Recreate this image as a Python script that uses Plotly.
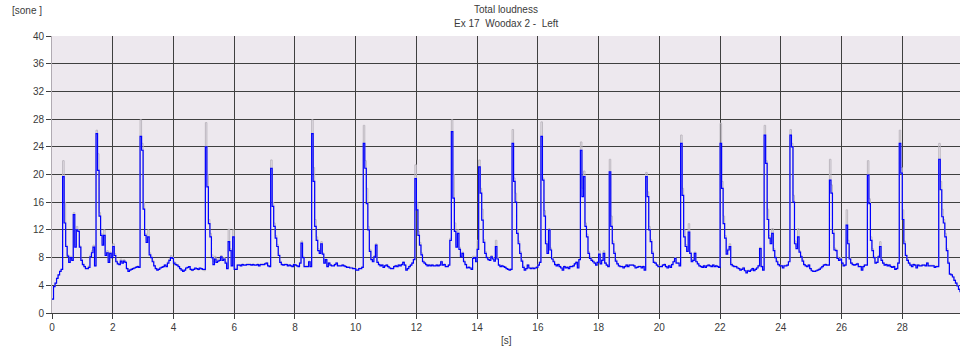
import plotly.graph_objects as go

# Total loudness, sampled every 0.05 s (one row per second)
SAMPLE_STEP_S = 0.05

loudness_blue = [
    2.0, 3.8, 4.3, 5.0, 5.5, 6.0, 6.3, 19.7, 13.0, 9.6, 8.2, 7.3, 8.0, 7.6, 14.2, 9.5, 12.0, 11.8, 9.5, 7.6,
    7.0, 6.7, 6.4, 6.4, 6.6, 8.1, 8.7, 9.5, 6.8, 25.9, 20.6, 14.0, 11.2, 9.8, 11.2, 8.3, 8.7, 7.3, 8.6, 8.0,
    9.6, 8.3, 7.4, 7.1, 7.0, 7.5, 7.2, 7.5, 7.3, 6.4, 6.0, 6.2, 6.3, 6.4, 6.5, 6.6, 6.7, 6.6, 25.5, 23.5,
    15.0, 11.2, 10.2, 11.0, 8.4, 8.0, 7.4, 6.8, 6.4, 6.2, 6.3, 6.5, 6.6, 6.7, 6.9, 6.7, 7.2, 7.6, 8.0, 7.9,
    7.2, 7.0, 6.9, 6.7, 6.4, 6.2, 6.0, 6.2, 6.5, 6.6, 6.7, 6.3, 6.2, 6.3, 6.5, 6.4, 6.3, 6.5, 6.4, 6.3,
    6.3, 24.0, 18.2, 12.9, 11.0, 8.0, 7.0, 7.8, 7.3, 7.5, 7.6, 8.1, 7.6, 7.8, 7.2, 6.4, 10.3, 9.0, 6.8, 11.0,
    6.3, 6.3, 6.9, 6.9, 6.8, 7.0, 6.9, 6.9, 7.0, 7.0, 7.0, 6.9, 7.0, 6.9, 6.9, 7.0, 6.8, 7.0, 7.0, 7.0,
    7.1, 7.2, 6.8, 6.7, 20.9, 15.4, 12.5, 10.8, 9.6, 8.3, 7.3, 7.0, 6.9, 7.0, 7.0, 6.8, 6.9, 6.8, 6.7, 7.0,
    6.9, 6.8, 6.7, 7.2, 10.1, 8.0, 6.7, 6.7, 6.7, 7.4, 6.7, 25.9, 19.0, 12.5, 10.5, 9.0, 8.6, 10.0, 8.5, 7.2,
    7.7, 6.7, 7.2, 6.9, 6.8, 6.8, 7.0, 7.2, 6.8, 6.8, 6.8, 6.9, 6.8, 6.7, 6.6, 6.6, 6.5, 6.5, 6.4, 6.4,
    6.2, 6.2, 6.4, 6.4, 6.6, 24.5, 20.9, 15.8, 12.0, 8.9, 7.7, 7.4, 8.1, 9.8, 7.3, 7.0, 6.8, 6.9, 6.6, 6.8,
    6.9, 6.7, 6.5, 6.4, 6.4, 6.7, 6.8, 6.7, 6.9, 6.8, 7.0, 7.3, 6.9, 6.2, 6.4, 6.7, 6.9, 7.2, 7.7, 19.4,
    14.9, 11.2, 9.8, 8.4, 7.4, 7.2, 7.0, 6.8, 6.9, 6.8, 6.9, 6.8, 6.8, 6.9, 6.8, 6.9, 7.4, 6.9, 7.0, 6.7,
    6.7, 6.9, 10.5, 26.2, 16.6, 11.8, 9.5, 11.5, 9.2, 8.1, 8.6, 7.4, 7.0, 6.5, 6.6, 6.5, 6.3, 7.9, 8.0, 7.4,
    9.2, 21.1, 17.3, 13.4, 10.2, 8.6, 8.0, 7.7, 7.6, 8.1, 7.8, 7.5, 9.6, 7.8, 6.9, 6.7, 6.8, 6.7, 6.6, 6.4,
    6.3, 6.2, 6.3, 24.5, 19.0, 16.0, 11.5, 10.0, 8.6, 7.5, 6.6, 6.2, 6.4, 6.9, 6.5, 6.4, 6.5, 6.4, 6.5, 6.6,
    6.9, 7.3, 25.5, 19.2, 14.0, 10.0, 8.6, 12.0, 9.1, 7.8, 7.4, 7.0, 6.8, 7.0, 6.7, 6.5, 6.2, 6.7, 6.5, 6.6,
    6.4, 6.7, 6.7, 6.8, 7.1, 7.3, 6.5, 7.7, 23.5, 16.8, 19.7, 12.5, 11.0, 8.6, 7.9, 7.6, 7.4, 7.2, 6.9, 7.3,
    8.5, 7.1, 7.6, 8.6, 7.2, 6.9, 6.7, 20.4, 12.5, 10.0, 8.6, 7.5, 7.1, 6.8, 6.7, 6.7, 6.5, 6.7, 6.9, 6.7,
    6.9, 6.9, 6.9, 6.8, 6.5, 6.6, 6.7, 6.7, 6.5, 6.7, 6.2, 19.7, 16.8, 12.0, 10.3, 8.6, 7.3, 7.2, 6.9, 6.7,
    6.7, 6.7, 6.9, 7.0, 6.7, 6.5, 6.8, 6.6, 7.0, 7.4, 7.9, 7.2, 7.2, 6.8, 24.5, 17.0, 11.0, 9.6, 8.9, 11.7,
    8.6, 7.4, 7.6, 8.6, 7.4, 7.1, 6.8, 6.7, 6.6, 6.8, 6.6, 6.8, 6.9, 6.8, 6.7, 6.9, 6.7, 6.8, 6.7, 6.6,
    24.5, 18.0, 12.9, 10.8, 8.5, 9.1, 9.6, 7.0, 6.8, 6.7, 6.7, 6.5, 6.4, 6.2, 6.3, 6.5, 6.1, 5.8, 6.1, 6.0,
    6.2, 6.4, 6.1, 6.3, 6.5, 6.8, 9.3, 6.7, 6.2, 25.7, 21.6, 13.5, 10.8, 10.0, 11.5, 9.0, 8.0, 7.4, 7.0, 6.8,
    6.8, 6.5, 6.8, 6.8, 6.9, 7.4, 25.7, 24.0, 16.0, 10.0, 9.3, 11.0, 8.8, 8.1, 7.5, 7.0, 6.8, 6.7, 6.9, 6.4,
    6.1, 6.0, 6.0, 6.1, 6.2, 6.3, 6.5, 6.7, 6.9, 7.0, 6.9, 6.9, 19.2, 17.3, 11.5, 9.1, 9.0, 7.9, 7.6, 7.8,
    7.2, 6.8, 6.9, 12.7, 10.0, 7.8, 7.2, 7.0, 6.9, 7.0, 7.1, 6.7, 6.7, 6.2, 6.7, 6.9, 6.9, 19.9, 15.8, 10.5,
    9.0, 8.0, 7.2, 7.3, 8.1, 9.6, 7.6, 7.2, 6.9, 7.0, 6.8, 6.9, 6.7, 6.6, 6.7, 6.3, 6.4, 7.2, 24.5, 20.2,
    13.5, 10.0, 8.3, 7.6, 7.2, 6.9, 6.7, 7.0, 6.9, 6.5, 6.9, 6.8, 6.8, 6.9, 6.9, 6.8, 7.2, 6.8, 6.8, 6.8,
    6.8, 6.6, 6.7, 6.7, 22.2, 17.8, 13.9, 13.0, 11.0, 9.0, 7.2, 5.6, 5.5, 5.2, 4.7, 4.3, 3.9, 3.4, 3.0,
]

loudness_grey = [
    2.0, 3.8, 4.3, 5.0, 5.5, 6.0, 6.3, 22.0, 16.0, 9.8, 8.4, 7.5, 8.2, 7.8, 14.5, 9.8, 12.5, 12.0, 9.7, 7.8,
    7.2, 6.8, 6.5, 6.6, 6.8, 8.4, 9.0, 9.8, 6.8, 26.4, 23.0, 14.5, 11.5, 10.0, 12.0, 8.5, 9.0, 7.5, 8.8, 8.2,
    10.0, 8.6, 7.6, 7.2, 7.2, 7.8, 7.4, 7.7, 7.4, 6.5, 6.2, 6.3, 6.4, 6.5, 6.6, 6.7, 6.8, 6.7, 27.9, 24.5,
    16.0, 11.5, 10.5, 12.0, 8.7, 8.2, 7.6, 6.9, 6.5, 6.3, 6.4, 6.6, 6.7, 6.8, 7.0, 6.9, 7.4, 7.8, 8.3, 8.1,
    7.4, 7.2, 7.0, 6.8, 6.5, 6.3, 6.1, 6.2, 6.4, 6.5, 6.5, 6.2, 6.1, 6.3, 6.4, 6.3, 6.2, 6.4, 6.3, 6.2,
    6.1, 27.5, 20.0, 13.5, 11.5, 8.4, 7.4, 8.2, 7.6, 7.8, 7.8, 8.3, 7.8, 8.0, 7.4, 6.5, 12.1, 9.3, 7.0, 12.0,
    6.5, 6.4, 7.0, 7.0, 6.9, 7.1, 7.0, 7.0, 7.1, 7.1, 7.1, 7.0, 7.1, 7.0, 7.0, 7.1, 6.9, 7.1, 7.1, 7.1,
    7.2, 7.3, 6.9, 6.8, 22.1, 16.0, 13.0, 11.2, 9.9, 8.5, 7.5, 7.1, 7.0, 7.1, 7.1, 6.9, 7.0, 6.9, 6.8, 7.1,
    7.0, 6.9, 6.8, 7.3, 10.4, 8.2, 6.8, 6.8, 6.8, 7.5, 6.8, 27.9, 21.0, 13.5, 11.0, 9.3, 8.8, 10.3, 8.7, 7.4,
    7.8, 6.8, 7.3, 7.0, 6.9, 6.9, 7.1, 7.3, 6.9, 6.9, 6.9, 7.0, 6.9, 6.8, 6.7, 6.7, 6.6, 6.6, 6.5, 6.5,
    6.3, 6.3, 6.5, 6.5, 6.7, 27.1, 22.0, 18.0, 12.5, 9.2, 7.9, 7.6, 8.3, 10.0, 7.5, 7.1, 6.9, 7.0, 6.7, 6.9,
    7.0, 6.8, 6.6, 6.5, 6.5, 6.8, 6.9, 6.8, 7.0, 6.9, 7.1, 7.4, 7.0, 6.3, 6.5, 6.8, 7.0, 7.3, 7.8, 21.4,
    16.0, 11.8, 10.2, 8.7, 7.6, 7.3, 7.1, 6.9, 7.0, 6.9, 7.0, 6.9, 6.9, 7.0, 6.9, 7.0, 7.5, 7.0, 7.1, 6.8,
    6.8, 7.0, 10.8, 27.9, 20.0, 13.0, 9.8, 12.0, 9.5, 8.3, 8.8, 7.6, 7.1, 6.6, 6.7, 6.6, 6.4, 8.2, 8.2, 7.6,
    10.5, 22.1, 18.0, 15.0, 10.6, 8.9, 8.2, 7.9, 7.8, 8.3, 8.0, 7.7, 10.5, 8.0, 7.0, 6.8, 6.9, 6.8, 6.7, 6.5,
    6.4, 6.3, 6.4, 26.5, 19.5, 17.3, 12.0, 10.4, 8.9, 7.7, 6.8, 6.3, 6.5, 7.0, 6.6, 6.5, 6.6, 6.5, 6.6, 6.7,
    7.0, 7.4, 27.6, 19.5, 14.8, 10.4, 8.8, 12.2, 9.4, 8.0, 7.6, 7.1, 6.9, 7.1, 6.8, 6.6, 6.3, 6.8, 6.6, 6.7,
    6.5, 6.8, 6.8, 6.9, 7.2, 7.4, 6.6, 7.8, 24.7, 18.0, 20.5, 13.0, 11.4, 8.9, 8.1, 7.8, 7.6, 7.3, 7.0, 7.4,
    9.0, 7.2, 7.7, 9.0, 7.3, 7.0, 6.8, 22.2, 14.0, 10.4, 8.9, 7.7, 7.2, 6.9, 6.8, 6.8, 6.6, 6.8, 7.0, 6.8,
    7.0, 7.0, 7.0, 6.9, 6.6, 6.7, 6.8, 6.8, 6.6, 6.8, 6.3, 20.3, 17.5, 12.5, 10.6, 8.9, 7.5, 7.3, 7.0, 6.8,
    6.8, 6.8, 7.0, 7.1, 6.8, 6.6, 6.9, 6.7, 7.1, 7.5, 8.0, 7.3, 7.3, 6.9, 25.7, 18.0, 12.0, 9.9, 9.1, 12.9,
    8.8, 7.6, 7.8, 8.8, 7.5, 7.2, 6.9, 6.8, 6.7, 6.9, 6.7, 6.9, 7.0, 6.9, 6.8, 7.0, 6.8, 6.9, 6.8, 6.7,
    27.4, 19.0, 14.0, 11.2, 8.8, 9.3, 10.0, 7.2, 6.9, 6.8, 6.8, 6.6, 6.5, 6.3, 6.4, 6.6, 6.2, 5.9, 6.2, 6.1,
    6.3, 6.5, 6.2, 6.4, 6.6, 6.9, 9.5, 6.8, 6.3, 27.1, 22.0, 15.0, 11.2, 10.3, 12.2, 9.3, 8.2, 7.6, 7.1, 6.9,
    6.9, 6.6, 6.9, 6.9, 7.0, 7.5, 26.5, 24.5, 17.0, 10.4, 9.6, 12.2, 9.0, 8.3, 7.7, 7.1, 6.9, 6.8, 7.0, 6.5,
    6.2, 6.1, 6.1, 6.2, 6.3, 6.4, 6.6, 6.8, 7.0, 7.1, 7.0, 7.0, 22.2, 18.5, 12.0, 9.4, 9.2, 8.1, 7.8, 8.0,
    7.3, 6.9, 7.0, 14.9, 10.5, 8.0, 7.3, 7.1, 7.0, 7.1, 7.2, 6.8, 6.8, 6.3, 6.8, 7.0, 7.0, 22.0, 16.5, 11.0,
    9.3, 8.2, 7.3, 7.4, 8.3, 10.3, 7.8, 7.3, 7.0, 7.1, 6.9, 7.0, 6.8, 6.7, 6.8, 6.4, 6.5, 7.3, 26.4, 21.0,
    14.9, 10.4, 8.5, 7.8, 7.3, 7.0, 6.8, 7.1, 7.0, 6.6, 7.0, 6.9, 6.9, 7.0, 7.0, 6.9, 7.3, 6.9, 6.9, 6.9,
    6.9, 6.7, 6.8, 6.8, 24.5, 19.0, 15.0, 13.5, 11.5, 9.3, 7.4, 5.7, 5.6, 5.3, 4.8, 4.4, 4.0, 3.5, 3.1,
]

time_s = [round(i * SAMPLE_STEP_S, 2) for i in range(len(loudness_blue))]

x_ticks = [0, 2, 4, 6, 8, 10, 12, 14, 16, 18, 20, 22, 24, 26, 28]
y_ticks = [0, 4, 8, 12, 16, 20, 24, 28, 32, 36, 40]

title_text = "Total loudness"
subtitle_text = "Ex 17  Woodax 2 -  Left"
y_unit = "[sone ]"
x_unit = "[s]"

FONT = "Liberation Sans, Arial, sans-serif"
TXT = "#3a3a3a"
GRID = "#3f3f3f"

fig = go.Figure()
fig.add_trace(go.Scatter(x=time_s, y=loudness_grey, mode="lines", line_shape="hv",
                         line=dict(color="#bcb7bf", width=1.0), hoverinfo="skip"))
fig.add_trace(go.Scatter(x=time_s, y=loudness_blue, mode="lines", line_shape="hv",
                         line=dict(color="#0000ff", width=1.2)))

fig.update_layout(
    width=967, height=352,
    margin=dict(l=52, r=7, t=36, b=39),
    paper_bgcolor="white",
    plot_bgcolor="#ede8ee",
    showlegend=False,
    font=dict(family=FONT, size=10, color=TXT),
    annotations=[
        dict(text=title_text, x=0.5, y=1, xref="paper", yref="paper", yanchor="bottom",
             yshift=19, showarrow=False, font=dict(size=10, color=TXT, family=FONT)),
        dict(text=subtitle_text, x=0.5, y=1, xref="paper", yref="paper", yanchor="bottom",
             yshift=5, showarrow=False, font=dict(size=10, color=TXT, family=FONT)),
        dict(text=y_unit, x=-42 / 908, y=1 + 26 / 277, xref="paper", yref="paper", showarrow=False,
             xanchor="left", yanchor="middle", font=dict(size=10, color=TXT, family=FONT)),
        dict(text=x_unit, x=0.5, y=0, xref="paper", yref="paper", yanchor="top",
             yshift=-20, showarrow=False, font=dict(size=10, color=TXT, family=FONT)),
    ],
)

fig.update_xaxes(range=[0, 29.9], tickvals=x_ticks, showgrid=True, gridcolor=GRID, gridwidth=1,
                 zeroline=False, showline=True, linecolor=GRID, linewidth=1,
                 ticks="outside", ticklen=5, tickcolor=GRID, tickfont=dict(size=10, color=TXT))
fig.update_yaxes(range=[0, 40], tickvals=y_ticks, showgrid=True, gridcolor=GRID, gridwidth=1,
                 zeroline=False, showline=True, linecolor="#b0aab2", linewidth=1,
                 ticks="outside", ticklen=5, tickcolor=GRID, tickfont=dict(size=10, color=TXT))

fig.write_html("out.html")
